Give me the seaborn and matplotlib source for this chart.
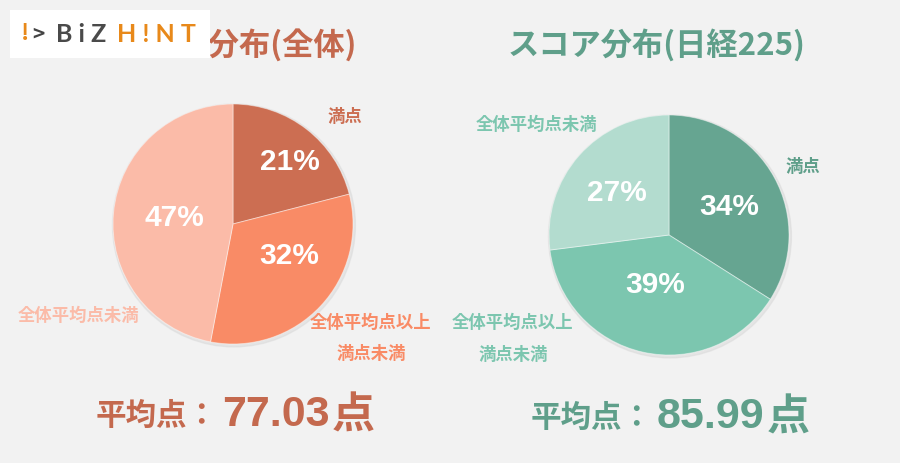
import matplotlib
matplotlib.use("Agg")
import matplotlib.pyplot as plt
import seaborn as sns
from matplotlib.patches import Rectangle, Circle

# data
categories = ["満点", "全体平均点以上\n満点未満", "全体平均点未満"]
shares_all = [21, 32, 47]
shares_nikkei = [34, 39, 27]
avg_all = "77.03"
avg_nikkei = "85.99"
title_all = "スコア分布(全体)"
title_nikkei = "スコア分布(日経225)"

colors_all = ["#CC6E52", "#F98B66", "#FBBBA8"]
colors_nikkei = ["#66A591", "#7CC6AF", "#B3DCCF"]
dark_all = "#C4694E"
dark_nikkei = "#5F9F8A"

sns.set_theme(style="white")
plt.rcParams["font.family"] = ["Noto Sans CJK JP", "DejaVu Sans"]
bg = "#F2F2F2"
num_font = ["Liberation Sans", "DejaVu Sans"]

W, H = 900, 463
fig = plt.figure(figsize=(9, 4.63), dpi=100, facecolor=bg)
renderer = fig.canvas.get_renderer()


def px(x, y):
    return x / W, 1 - y / H


def width_px(t):
    return t.get_window_extent(renderer=renderer).width


def draw_pie(cx, cy, r, values, colors, pct_pos):
    ax = fig.add_axes([(cx - r - 4) / W, (H - cy - r - 4) / H, (2 * r + 8) / W, (2 * r + 8) / H])
    ax.set_facecolor(bg)
    # soft shadow under the pie
    ax.add_patch(Circle((0.008, -0.012), 1.012, color="#D9D9D9", alpha=0.5, zorder=0))
    ax.pie(values, colors=colors, startangle=90, counterclock=False,
           radius=1, wedgeprops=dict(linewidth=0.7, edgecolor=(1, 1, 1, 0.45)))
    lim = 1 + 4 / r
    ax.set_xlim(-lim, lim)
    ax.set_ylim(-lim, lim)
    ax.set_aspect("equal")
    ax.axis("off")
    for v, (x, y) in zip(values, pct_pos):
        fig.text(*px(x, y), f"{v}%", color="white", fontsize=21.5, fontweight="bold",
                 ha="center", va="center", family=num_font)


draw_pie(233, 224, 120, shares_all, colors_all, [(290, 162), (289, 256), (174, 218)])
draw_pie(669, 235, 120, shares_nikkei, colors_nikkei, [(729, 207), (655, 285), (617, 193)])

# category labels
lab = dict(fontsize=12.5, fontweight="bold", ha="center", va="center")
fig.text(*px(345, 117), categories[0], color=colors_all[0], **lab)
fig.text(*px(370, 323), "全体平均点以上", color=colors_all[1], **lab)
fig.text(*px(371, 354), "満点未満", color=colors_all[1], **lab)
fig.text(*px(79, 316), categories[2], color=colors_all[2], **lab)

fig.text(*px(537, 125), categories[2], color=colors_nikkei[1], **lab)
fig.text(*px(803, 167), categories[0], color=dark_nikkei, **lab)
fig.text(*px(513, 323), "全体平均点以上", color=colors_nikkei[1], **lab)
fig.text(*px(513, 355), "満点未満", color=colors_nikkei[1], **lab)

# titles (left one sits partly under the logo, as in the original)
fig.text(*px(236, 45), title_all, color=dark_all, fontsize=22.5, fontweight="bold",
         ha="center", va="center")
fig.text(*px(657, 45), title_nikkei, color=dark_nikkei, fontsize=22.5, fontweight="bold",
         ha="center", va="center")


# average score
def avg_text(x_left, y, val, color):
    t1 = fig.text(*px(x_left, y), "平均点：", color=color, fontsize=22, fontweight="bold",
                  ha="left", va="center")
    x = x_left + width_px(t1) + 4
    t2 = fig.text(*px(x, y - 1), val, color=color, fontsize=31, fontweight="bold",
                  ha="left", va="center", family=num_font)
    x += width_px(t2) + 2
    fig.text(*px(x, y), "点", color=color, fontsize=31, fontweight="bold",
             ha="left", va="center")


avg_text(96, 416, avg_all, dark_all)
avg_text(531, 418, avg_nikkei, dark_nikkei)

# logo
fig.patches.append(Rectangle(px(10, 58), 200 / W, 48 / H, transform=fig.transFigure,
                             facecolor="white", edgecolor="none", zorder=5))
fig.text(*px(25, 33), "!", color="#E8891A", fontsize=16, fontweight="bold",
         ha="center", va="center", zorder=6)
fig.text(*px(38, 34), ">", color="#444444", fontsize=15, fontweight="bold",
         ha="center", va="center", zorder=6)
fig.text(*px(56, 34), "B i Z", color="#4A4A4A", fontsize=18, fontweight="bold",
         ha="left", va="center", family=["Lato", "DejaVu Sans"], zorder=6)
fig.text(*px(117, 34), "H ! N T", color="#E8891A", fontsize=18, fontweight="bold",
         ha="left", va="center", family=["Lato", "DejaVu Sans"], zorder=6)

fig.savefig("out.png", dpi=100, facecolor=bg)
